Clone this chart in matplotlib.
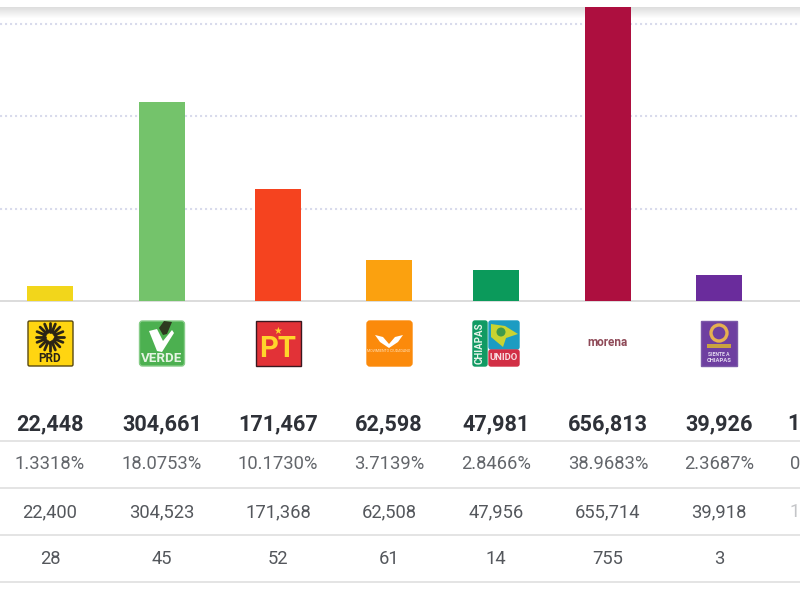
import matplotlib
matplotlib.use("Agg")
import matplotlib.pyplot as plt
import numpy as np
from matplotlib.patches import Rectangle, FancyBboxPatch, Circle, Polygon

plt.rcParams['font.family'] = ['Roboto', 'DejaVu Sans']

parties = ['PRD', 'VERDE', 'PT', 'MC', 'CHIAPAS UNIDO', 'morena', 'PODEMOS']
total_votes = [22448, 304661, 171467, 62598, 47981, 656813, 39926]
total_labels = ['22,448', '304,661', '171,467', '62,598', '47,981', '656,813', '39,926']
percent_labels = ['1.3318%', '18.0753%', '10.1730%', '3.7139%', '2.8466%', '38.9683%', '2.3687%']
valid_labels = ['22,400', '304,523', '171,368', '62,508', '47,956', '655,714', '39,918']
other_labels = ['28', '45', '52', '61', '14', '755', '3']
cut_labels = ['1', '0', '1']
bar_colors = ['#F2D61B', '#74C36B', '#F5431F', '#FBA10F', '#0B9A5B', '#AD0F3F', '#6A2C9C']
grid_values = [141500, 283000, 424500]

centers = [50, 162, 278, 389, 496, 608, 719]
row_y = [422, 462, 510, 557]
rule_y = [440.5, 487.5, 535, 582]

fig = plt.figure(figsize=(8, 6), dpi=100, facecolor='white')

# background layer with the top shadow
bg = fig.add_axes([0, 0, 1, 1], zorder=0)
shade = np.linspace(0.87, 1, 12).reshape(-1, 1)
bg.imshow(shade, extent=(0, 800, 19, 7), cmap='gray', vmin=0, vmax=1, aspect='auto')
bg.set_xlim(0, 800)
bg.set_ylim(600, 0)
bg.axis('off')

# bar chart: baseline at y=301 px, top at y=7 px
ax = fig.add_axes([0, (600 - 301) / 600, 1, 294 / 600], zorder=1)
ax.patch.set_alpha(0)
ax.set_xlim(0, 800)
ax.set_ylim(0, 294 / (199 / 304661))
ax.bar(centers, total_votes, width=46, color=bar_colors, zorder=3)
for g in grid_values:
    ax.axhline(g, color='#D9DBEC', lw=1.5, ls=(0, (1, 1.4)), zorder=1)
for s in ['top', 'left', 'right']:
    ax.spines[s].set_visible(False)
ax.spines['bottom'].set_color('#D6D6D6')
ax.spines['bottom'].set_linewidth(1.2)
ax.set_xticks([])
ax.set_yticks([])

# overlay in pixel coordinates
ov = fig.add_axes([0, 0, 1, 1], zorder=2)
ov.set_xlim(0, 800)
ov.set_ylim(600, 0)
ov.axis('off')
ov.patch.set_alpha(0)

for i, c in enumerate(centers):
    ov.text(c, row_y[0], total_labels[i], ha='center', va='center_baseline', fontsize=15.6,
            fontweight='bold', color='#2E3138')
    ov.text(c, row_y[1], percent_labels[i], ha='center', va='center_baseline', fontsize=13.2, color='#63666B')
    ov.text(c, row_y[2], valid_labels[i], ha='center', va='center_baseline', fontsize=13.2, color='#54575C')
    ov.text(c, row_y[3], other_labels[i], ha='center', va='center_baseline', fontsize=13.2, color='#54575C')
ov.text(800, row_y[0], cut_labels[0], ha='right', va='center_baseline', fontsize=15.6, fontweight='bold', color='#2E3138')
ov.text(800, row_y[1], cut_labels[1], ha='right', va='center_baseline', fontsize=13.2, color='#63666B')
ov.text(800, row_y[2], cut_labels[2], ha='right', va='center_baseline', fontsize=13.2, color='#C4C5C8')
for y in rule_y:
    ov.plot([0, 800], [y, y], color='#DDDDDD', lw=1.1)


def box(x0, w, fc, ec=None, y0=321, h=45, r=0.0):
    if r:
        ov.add_patch(FancyBboxPatch((x0 + r, y0 + r), w - 2 * r, h - 2 * r,
                                    boxstyle=f'round,pad={r}', fc=fc, ec=ec or fc, lw=1))
    else:
        ov.add_patch(Rectangle((x0, y0), w, h, fc=fc, ec=ec or fc, lw=1))


# PRD logo
box(28, 45, '#FFD511', '#5A4A10', r=1.5)
for a in np.linspace(0, 2 * np.pi, 16, endpoint=False):
    ov.plot([50 + 5 * np.cos(a), 50 + 14 * np.cos(a)], [337 + 5 * np.sin(a), 337 + 14 * np.sin(a)],
            color='#2A2416', lw=2, solid_capstyle='round')
ov.add_patch(Circle((50, 337), 7.5, fc='#2A2416', ec='none'))
ov.add_patch(Circle((50, 337), 4.5, fc='#FFD511', ec='none'))
ov.text(50, 359, 'PRD', ha='center', va='center', fontsize=8.5, fontweight='bold', color='#2A2416')
# VERDE logo
box(139.5, 45, '#4CB050', '#86CC88', r=3)
ov.text(162, 359, 'VERDE', ha='center', va='center', fontsize=9.6, fontweight='bold', color='#E4F4E2')
ov.add_patch(Polygon([(149, 331), (157, 329), (163, 341), (172, 330), (174, 333), (162, 352), (157, 351)],
                     fc='white', ec='none'))
ov.add_patch(Polygon([(159, 328), (164, 321), (172, 322), (167, 334), (163, 335)], fc='#2D3A20', ec='none'))
# PT logo
box(255.5, 45, '#E23237', '#3A1820')
ov.text(278, 349, 'PT', ha='center', va='center', fontsize=21, fontweight='bold', color='#FFD52B')
ov.text(278, 331, '★', ha='center', va='center', fontsize=7, color='#FFD52B', family='DejaVu Sans')
# MC logo
box(367, 45, '#FB8A0B', r=3)
ov.add_patch(Polygon([(375, 335), (383, 337), (389, 344), (395, 337), (403, 335), (398, 342), (389, 348), (380, 342)],
                     fc='white', ec='none'))
ov.text(389, 351, 'MOVIMIENTO CIUDADANO', ha='center', va='center', fontsize=2.6, color='#FFE4C0')
# CHIAPAS UNIDO logo
box(473, 14, '#119A63', r=2)
ov.text(480, 343, 'CHIAPAS', rotation=90, ha='center', va='center', fontsize=7, fontweight='bold', color='#E9F5EC')
box(489, 30, '#1C9CC2', y0=321, h=28, r=2)
box(489, 30, '#D22F45', y0=350, h=16, r=2)
ov.add_patch(Polygon([(491, 324), (505, 326), (518, 334), (506, 338), (503, 347), (491, 337)],
                     fc='#C9D331', ec='none'))
ov.add_patch(Circle((501, 332), 4.5, fc='#3F9A4B', ec='none'))
ov.text(504, 358, 'UNIDO', ha='center', va='center', fontsize=6.8, fontweight='bold', color='#F7DDE0')
# morena logo
ov.text(607, 343, 'morena', ha='center', va='center', fontsize=8.5, fontweight='bold', color='#8F4A58')
# PODEMOS logo
box(701, 36, '#6E3FA0', '#7B5AA8')
ov.add_patch(Circle((719, 333), 8, fc='none', ec='#E5B050', lw=2.4))
ov.add_patch(Rectangle((707, 344), 24, 4, fc='#C9A23F', ec='none'))
ov.text(719, 354, 'SIENTE A', ha='center', va='center', fontsize=3.6, fontweight='bold', color='#E6DDF2')
ov.text(719, 360, 'CHIAPAS', ha='center', va='center', fontsize=4.2, fontweight='bold', color='#E6DDF2')

fig.savefig('out.png', dpi=100)
